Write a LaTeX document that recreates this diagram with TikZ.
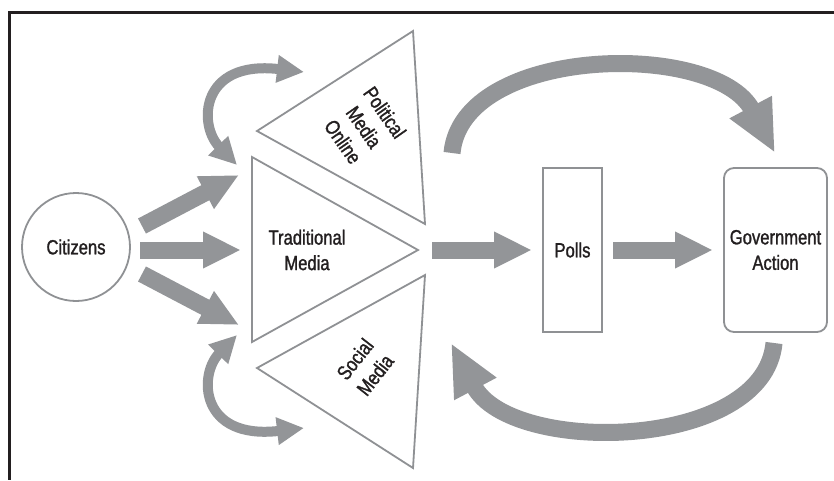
\documentclass[tikz,border=0pt]{standalone}
\usepackage{fontspec}
\setmainfont[FakeStretch=0.81,FakeBold=1.3]{Liberation Sans}
\usetikzlibrary{arrows.meta}
\definecolor{arrowgray}{HTML}{939598}
\definecolor{linegray}{HTML}{8F9194}
\definecolor{inkdark}{HTML}{231F20}

\begin{document}
\begin{tikzpicture}[x=1pt,y=-1pt,
  outline/.style={draw=linegray,line width=1.8pt,line join=miter},
  lbl/.style={font=\fontsize{20.5}{25.5}\selectfont,text=inkdark,align=center,inner sep=0pt},
  fatarrow/.style={draw=arrowgray,line width=17pt,-{Triangle[length=38pt,width=34pt]}},
  looparrow/.style={draw=arrowgray,line width=17pt,-{Triangle[length=52pt,width=44pt]}},
  twoway/.style={draw=arrowgray,line width=10pt,
    {Triangle[length=27pt,width=26pt]}-{Triangle[length=27pt,width=26pt]}}]

\useasboundingbox (0,0) rectangle (834,480);
\fill[white] (0,0) rectangle (834,480);

% frame on top and left
\draw[inkdark,line width=3pt] (834,12) -- (9,12) -- (9,480);

% triangle vertices
\coordinate (polA) at (257,131);
\coordinate (polB) at (413,31);
\coordinate (polC) at (425,224);
\coordinate (tradA) at (252,157);
\coordinate (tradB) at (252,342);
\coordinate (tradC) at (418,250);
\coordinate (socA) at (257,368);
\coordinate (socB) at (425,275);
\coordinate (socC) at (413,468);

\draw[outline] (polA) -- (polB) -- (polC) -- cycle;
\draw[outline] (tradA) -- (tradB) -- (tradC) -- cycle;
\draw[outline] (socA) -- (socB) -- (socC) -- cycle;

% boxes and labels
\node[outline,circle,minimum size=108pt,lbl] (cit) at (76,247) {Citizens};
\node[lbl] (trad) at (307,250) {Traditional\\Media};
\node[lbl,rotate=-55] (pol) at (364,127) {Political\\Media\\Online};
\node[lbl,rotate=52] (soc) at (365,367) {Social\\Media};
\node[outline,rectangle,minimum width=59pt,minimum height=164pt,lbl] (polls) at (572.5,250) {Polls};
\node[outline,rectangle,rounded corners=10pt,minimum width=103pt,minimum height=164pt,lbl] (gov) at (775.5,250) {Government\\Action};

% arrow end points
\coordinate (c1s) at (142,226); \coordinate (c1e) at (239,175);
\coordinate (c2s) at (140,250); \coordinate (c2e) at (241,250);
\coordinate (c3s) at (142,274); \coordinate (c3e) at (239,325);
\coordinate (tps) at (432,250); \coordinate (tpe) at (532,250);
\coordinate (pgs) at (613,250); \coordinate (pge) at (713,250);
\coordinate (ups) at (237,165); \coordinate (upe) at (304,72);
\coordinate (dns) at (237,335); \coordinate (dne) at (304,428);
\coordinate (tops) at (452,153); \coordinate (tope) at (775,153);
\coordinate (bots) at (774,343); \coordinate (bote) at (451,343);

% straight flow arrows
\draw[fatarrow] (c1s) -- (c1e);
\draw[fatarrow] (c2s) -- (c2e);
\draw[fatarrow] (c3s) -- (c3e);
\draw[fatarrow] (tps) -- (tpe);
\draw[fatarrow] (pgs) -- (pge);

% two-way arcs beside the side triangles
\draw[twoway] (ups) .. controls (198,125) and (200,60) .. (upe);
\draw[twoway] (dns) .. controls (198,375) and (200,440) .. (dne);

% feedback loop
\draw[looparrow] (tops) .. controls (462,45) and (715,40) .. (tope);
\draw[looparrow] (bots) .. controls (764,451) and (511,456) .. (bote);

\end{tikzpicture}
\end{document}
